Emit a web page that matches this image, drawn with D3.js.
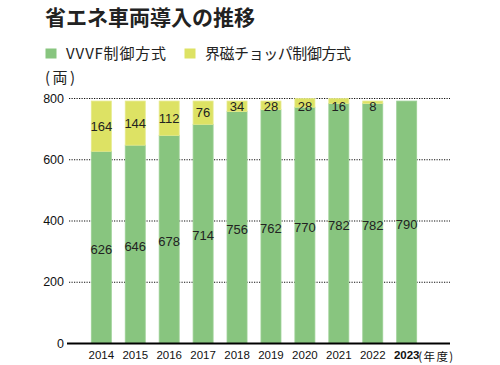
<!DOCTYPE html>
<html><head><meta charset="utf-8">
<script src="https://cdn.jsdelivr.net/npm/d3@7"></script>
<style>body{margin:0;background:#fff}svg{display:block}</style>
</head><body>
<svg id="c" width="500" height="365"></svg>
<script>
const years = ["2014","2015","2016","2017","2018","2019","2020","2021","2022","2023"];
const vvvf = [626,646,678,714,756,762,770,782,782,790];
const chopper = [164,144,112,76,34,28,28,16,8,0];
const yTicks = [0,200,400,600,800];
const seriesNames = ["VVVF制御方式","界磁チョッパ制御方式"];
const colors = ["#88c57f","#dde264"];

const svg = d3.select("#c");
const font = "'Liberation Sans','Noto Sans CJK JP',Arial,sans-serif";
const cjk = "'Noto Sans CJK JP','Liberation Sans',sans-serif";

const y = d3.scaleLinear().domain([0,800]).range([343,98]);
const x = d3.scaleBand().domain(years).range([84.35,423.65]).paddingInner(0.41).paddingOuter(0.205);

// title
svg.append("text").attr("x",45).attr("y",25).attr("font-family",cjk).attr("font-weight","bold")
  .attr("font-size",21).attr("fill","#222").text("省エネ車両導入の推移");

// legend
const legX = [45.5,184.5];
const legW = [100,146];
seriesNames.forEach((n,i)=>{
  svg.append("rect").attr("x",legX[i]).attr("y",48.5).attr("width",11).attr("height",10).attr("fill",colors[i]);
  svg.append("text").attr("x",legX[i]+20.5).attr("y",59).attr("font-family",cjk).attr("font-size",15)
    .attr("textLength",legW[i]).attr("lengthAdjust","spacing").attr("fill","#222").text(n);
});
svg.append("text").attr("x",45).attr("y",83).attr("font-family",cjk).attr("font-size",15)
  .attr("textLength",30).attr("lengthAdjust","spacing").attr("fill","#222").text("(両)");

// gridlines
svg.append("g").selectAll("line").data(yTicks.filter(d=>d>0)).join("line")
  .attr("x1",69).attr("x2",450).attr("y1",d=>y(d)+0.5).attr("y2",d=>y(d)+0.5)
  .attr("stroke","#111").attr("stroke-width",1.2).attr("stroke-dasharray","1.2,1.3");

// y axis labels via d3 axis
const ya = svg.append("g").attr("transform","translate(66,0)")
  .call(d3.axisLeft(y).tickValues(yTicks).tickSize(0).tickPadding(2));
ya.select(".domain").remove();
ya.selectAll("text").attr("font-family",font).attr("font-size",12.5).attr("fill","#111");

// bars
const g = svg.append("g");
years.forEach((yr,i)=>{
  const bx = x(yr), bw = x.bandwidth();
  g.append("rect").attr("x",bx).attr("width",bw).attr("y",y(vvvf[i])).attr("height",y(0)-y(vvvf[i]))
    .attr("fill",colors[0]).attr("stroke","#9cd095").attr("stroke-width",0.8);
  if(chopper[i]>0){
    const top = y(vvvf[i]+chopper[i]);
    g.append("rect").attr("x",bx).attr("width",bw).attr("y",top).attr("height",y(vvvf[i])-top)
      .attr("fill",colors[1]).attr("stroke","#e6ea8a").attr("stroke-width",0.8);
  }
});
// labels
years.forEach((yr,i)=>{
  const cx = x(yr)+x.bandwidth()/2;
  const mid = (y(0)+y(vvvf[i]))/2;
  g.append("text").attr("x",cx).attr("y",mid+2).attr("dy","0.35em").attr("text-anchor","middle")
    .attr("font-family",font).attr("font-size",13).attr("fill","#222").text(vvvf[i]);
  if(chopper[i]>0){
    const m2 = Math.max((y(vvvf[i])+y(vvvf[i]+chopper[i]))/2, 106.5);
    g.append("text").attr("x",cx).attr("y",m2).attr("dy","0.35em").attr("text-anchor","middle")
      .attr("font-family",font).attr("font-size",13).attr("fill","#222").text(chopper[i]);
  }
});

// x axis
svg.append("line").attr("x1",67).attr("x2",450).attr("y1",343.5).attr("y2",343.5).attr("stroke","#000").attr("stroke-width",2);
const xa = svg.append("g").attr("transform","translate(0,345)")
  .call(d3.axisBottom(x).tickSize(0).tickPadding(6));
xa.select(".domain").remove();
xa.selectAll("text").attr("font-family",font).attr("font-size",11.5).attr("fill","#111")
  .attr("font-weight",d=>d==="2023"?"bold":"normal");
svg.append("text").attr("x",x("2023")+x.bandwidth()/2+11.5).attr("y",361).attr("font-family",cjk)
  .attr("font-size",11.5).attr("textLength",35).attr("lengthAdjust","spacing").attr("fill","#111").text("(年度)");
</script>
</body></html>
